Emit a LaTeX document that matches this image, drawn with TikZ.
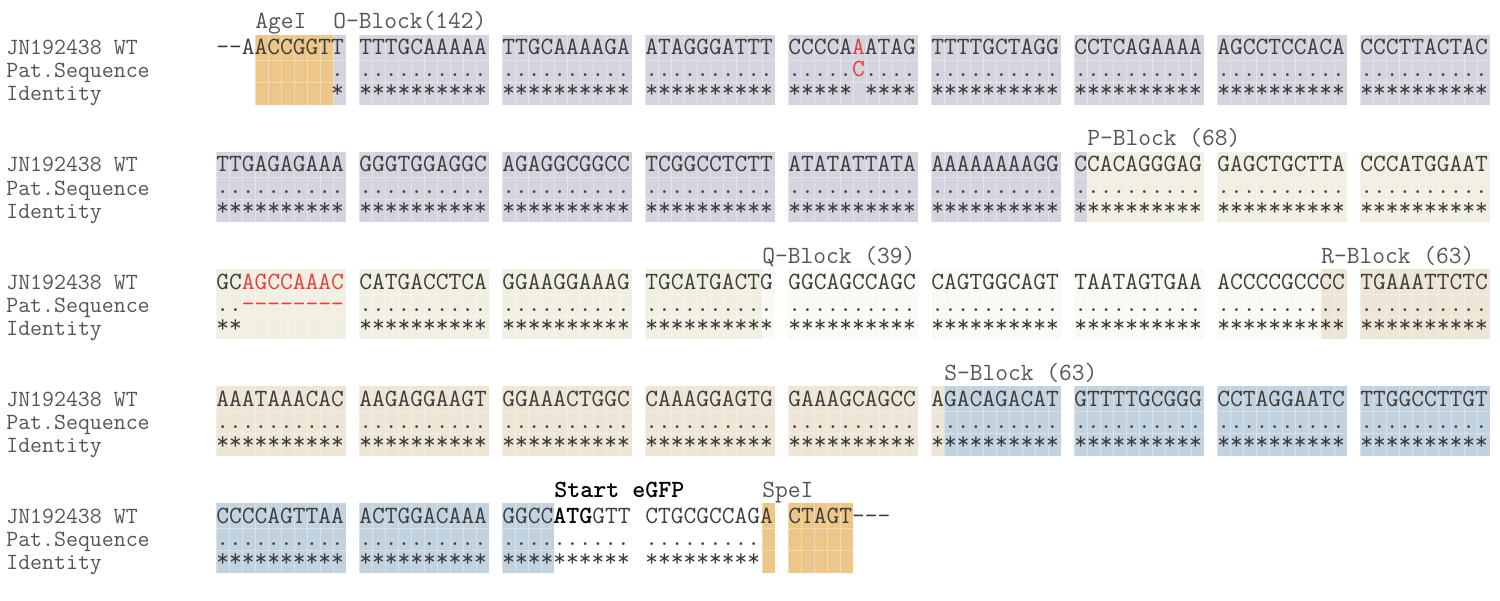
\documentclass[tikz,border=0pt]{standalone}
\usepackage{fontspec}
\usepackage{xcolor}
\usetikzlibrary{positioning}
\definecolor{cutorange}{RGB}{237,199,138}
\definecolor{oblock}{RGB}{211,212,222}
\definecolor{pblock}{RGB}{241,239,226}
\definecolor{qblock}{RGB}{250,249,243}
\definecolor{rblock}{RGB}{237,229,213}
\definecolor{sblock}{RGB}{195,210,223}
\definecolor{basegray}{RGB}{60,60,60}
\definecolor{namegray}{RGB}{85,85,85}
\definecolor{mutred}{RGB}{235,60,60}
\newcommand{\seqfont}{\ttfamily\fontsize{14.09}{16}\selectfont}
\newcommand{\namefont}{\ttfamily\fontsize{13.2}{15}\selectfont}
\newcommand{\mut}[1]{\textcolor{mutred}{#1}}
% match lines (kept in macros so \foreach does not read the dots as a range)
\newcommand{\mten}{..........}
\newcommand{\mnine}{.........}
\newcommand{\mlast}{~~~~~~~~~.}
\newcommand{\msnp}{.....\mut{C}....}
\newcommand{\mdel}{..\mut{-{}-{}-{}-{}-{}-{}-{}-}}
% shaded cells: colour, row top, group, first char, last char
\newcommand{\shadecells}[5]{%
  \fill[#1] ({216+143*(#3-1)+13*(#4-1)},#2) rectangle ({216+143*(#3-1)+13*#5},{#2+70});
  \foreach \k in {#4,...,#5}
    \draw[cellline] ({216+143*(#3-1)+13*(\k-1)},#2) -- ++(0,70);
  \draw[cellline] ({216+143*(#3-1)+13*(#4-1)},{#2+25}) -- ({216+143*(#3-1)+13*#5},{#2+25});
  \draw[cellline] ({216+143*(#3-1)+13*(#4-1)},{#2+47}) -- ({216+143*(#3-1)+13*#5},{#2+47});
}

\begin{document}
\begin{tikzpicture}[
    x=0.02cm, y=-0.02cm,
    cellline/.style={white, opacity=0.35, line width=0.3pt},
    seqline/.style={anchor=base west, inner sep=0pt, font=\seqfont, text=basegray},
    dotline/.style={seqline, text height=3pt, text depth=0pt},
    starline/.style={seqline, text height=7pt, text depth=0pt},
    rowname/.style={anchor=base west, inner sep=0pt, font=\namefont, text=namegray},
    blocklabel/.style={anchor=base west, inner sep=0pt, font=\seqfont, text=namegray}
]
    \useasboundingbox (0,0) rectangle (1500,601);

    % Backgrounds
    \shadecells{cutorange}{35}{1}{4}{9}
    \shadecells{oblock}{35}{1}{10}{10}
    \foreach \g in {2,...,9} {\shadecells{oblock}{35}{\g}{1}{10}}
    \foreach \g in {1,...,6} {\shadecells{oblock}{152}{\g}{1}{10}}
    \shadecells{oblock}{152}{7}{1}{1}
    \shadecells{pblock}{152}{7}{2}{10}
    \foreach \g in {8,9} {\shadecells{pblock}{152}{\g}{1}{10}}
    \foreach \g in {1,2,3} {\shadecells{pblock}{269}{\g}{1}{10}}
    \shadecells{pblock}{269}{4}{1}{9}
    \shadecells{qblock}{269}{4}{10}{10}
    \foreach \g in {5,6,7} {\shadecells{qblock}{269}{\g}{1}{10}}
    \shadecells{qblock}{269}{8}{1}{8}
    \shadecells{rblock}{269}{8}{9}{10}
    \shadecells{rblock}{269}{9}{1}{10}
    \foreach \g in {1,...,5} {\shadecells{rblock}{386}{\g}{1}{10}}
    \shadecells{rblock}{386}{6}{1}{1}
    \shadecells{sblock}{386}{6}{2}{10}
    \foreach \g in {7,8,9} {\shadecells{sblock}{386}{\g}{1}{10}}
    \foreach \g in {1,2} {\shadecells{sblock}{503}{\g}{1}{10}}
    \shadecells{sblock}{503}{3}{1}{4}
    \shadecells{cutorange}{503}{4}{10}{10}
    \shadecells{cutorange}{503}{5}{1}{5}

    % Row names
    \foreach \t [count=\r] in {35,152,269,386,503} {
        \node[rowname] (wt\r) at (6,{\t+20}) {JN192438 WT};
        \node[rowname] (pat\r) at (6,{\t+43}) {Pat.Sequence};
        \node[rowname] (idt\r) at (6,{\t+66}) {Identity};
    }

    % Block labels
    \node[blocklabel] (agei) at (255,29) {AgeI};
    \node[blocklabel] (oblk) at (333,29) {O-Block(142)};
    \node[blocklabel] (pblk) at (1087,146) {P-Block (68)};
    \node[blocklabel] (qblk) at (762,263) {Q-Block (39)};
    \node[blocklabel] (rblk) at (1321,263) {R-Block (63)};
    \node[blocklabel] (sblk) at (944,380) {S-Block (63)};
    \node[blocklabel, text=black, font=\seqfont\bfseries] (egfp) at (554,497) {Start eGFP};
    \node[blocklabel] (spei) at (762,497) {SpeI};

    % Row 1
    \foreach \s [count=\i] in {-{}-AACCGGTT, TTTGCAAAAA, TTGCAAAAGA, ATAGGGATTT,
        CCCCA\mut{A}ATAG, TTTTGCTAGG, CCTCAGAAAA, AGCCTCCACA, CCCTTACTAC}
        \node[seqline] (a1g\i) at ({216+143*(\i-1)},55) {\s};
    \foreach \s [count=\i] in {\mlast, \mten, \mten, \mten, \msnp, \mten, \mten, \mten, \mten}
        \node[dotline] (b1g\i) at ({216+143*(\i-1)},77) {\s};
    \foreach \s [count=\i] in {~~~~~~~~~*, **********, **********, **********,
        *****~****, **********, **********, **********, **********}
        \node[starline] (c1g\i) at ({216+143*(\i-1)},98) {\s};

    % Row 2
    \foreach \s [count=\i] in {TTGAGAGAAA, GGGTGGAGGC, AGAGGCGGCC, TCGGCCTCTT,
        ATATATTATA, AAAAAAAAGG, CCACAGGGAG, GAGCTGCTTA, CCCATGGAAT}
        \node[seqline] (a2g\i) at ({216+143*(\i-1)},172) {\s};
    \foreach \i in {1,...,9}
        \node[dotline] (b2g\i) at ({216+143*(\i-1)},194) {\mten};
    \foreach \i in {1,...,9}
        \node[starline] (c2g\i) at ({216+143*(\i-1)},215) {**********};

    % Row 3
    \foreach \s [count=\i] in {GC\mut{AGCCAAAC}, CATGACCTCA, GGAAGGAAAG, TGCATGACTG,
        GGCAGCCAGC, CAGTGGCAGT, TAATAGTGAA, ACCCCGCCCC, TGAAATTCTC}
        \node[seqline] (a3g\i) at ({216+143*(\i-1)},289) {\s};
    \foreach \s [count=\i] in {\mdel, \mten, \mten, \mten, \mten, \mten, \mten, \mten, \mten}
        \node[dotline] (b3g\i) at ({216+143*(\i-1)},311) {\s};
    \foreach \s [count=\i] in {**, **********, **********, **********,
        **********, **********, **********, **********, **********}
        \node[starline] (c3g\i) at ({216+143*(\i-1)},332) {\s};

    % Row 4
    \foreach \s [count=\i] in {AAATAAACAC, AAGAGGAAGT, GGAAACTGGC, CAAAGGAGTG,
        GAAAGCAGCC, AGACAGACAT, GTTTTGCGGG, CCTAGGAATC, TTGGCCTTGT}
        \node[seqline] (a4g\i) at ({216+143*(\i-1)},406) {\s};
    \foreach \i in {1,...,9}
        \node[dotline] (b4g\i) at ({216+143*(\i-1)},428) {\mten};
    \foreach \i in {1,...,9}
        \node[starline] (c4g\i) at ({216+143*(\i-1)},449) {**********};

    % Row 5
    \foreach \s [count=\i] in {CCCCAGTTAA, ACTGGACAAA, GGCC\textcolor{black}{\bfseries ATG}GTT,
        CTGCGCCAGA, CTAGT-{}-{}-}
        \node[seqline] (a5g\i) at ({216+143*(\i-1)},523) {\s};
    \foreach \s [count=\i] in {\mten, \mten, \mten, \mnine}
        \node[dotline] (b5g\i) at ({216+143*(\i-1)},545) {\s};
    \foreach \s [count=\i] in {**********, **********, **********, *********}
        \node[starline] (c5g\i) at ({216+143*(\i-1)},566) {\s};
\end{tikzpicture}
\end{document}
